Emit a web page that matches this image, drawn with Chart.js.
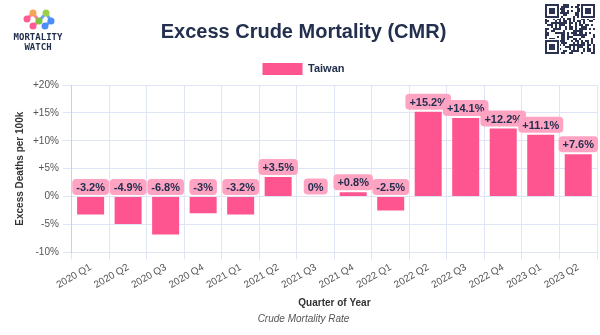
<!DOCTYPE html>
<html>
<head>
<meta charset="utf-8">
<script src="https://cdn.jsdelivr.net/npm/chart.js@4"></script>
<style>
  html, body { margin: 0; padding: 0; background: #fff; }
  #wrap { width: 600px; height: 335px; position: relative; }
</style>
</head>
<body>
<div id="wrap"><canvas id="cmr" width="600" height="335"></canvas></div>
<script>
// quarters and excess CMR (%) for Taiwan
const quarters = ['2020 Q1', '2020 Q2', '2020 Q3', '2020 Q4', '2021 Q1', '2021 Q2', '2021 Q3',
                  '2021 Q4', '2022 Q1', '2022 Q2', '2022 Q3', '2022 Q4', '2023 Q1', '2023 Q2'];
const excessTaiwan = [-3.2, -4.9, -6.8, -3, -3.2, 3.5, 0, 0.8, -2.5, 15.2, 14.1, 12.2, 11.1, 7.6];
const yTicks = [-10, -5, 0, 5, 10, 15, 20];

const PINK = '#fe5590';
const LABEL_BG = '#ffa3c3';
const INK = '#232f4e';
const GRID = '#dfe5f7';
const FONT = '"Liberation Sans", Arial, sans-serif';

function fmtPct(v) {
    if (v > 0) return '+' + v + '%';
    return v + '%';
}

function roundRect(ctx, x, y, w, h, r) {
    ctx.beginPath();
    ctx.moveTo(x + r, y);
    ctx.lineTo(x + w - r, y);
    ctx.quadraticCurveTo(x + w, y, x + w, y + r);
    ctx.lineTo(x + w, y + h - r);
    ctx.quadraticCurveTo(x + w, y + h, x + w - r, y + h);
    ctx.lineTo(x + r, y + h);
    ctx.quadraticCurveTo(x, y + h, x, y + h - r);
    ctx.lineTo(x, y + r);
    ctx.quadraticCurveTo(x, y, x + r, y);
    ctx.closePath();
}

// value badges sitting on top of each bar
const badgePlugin = {
    id: 'badges',
    afterDatasetsDraw(chart) {
        const ctx = chart.ctx;
        const meta = chart.getDatasetMeta(0);
        ctx.save();
        ctx.font = 'bold 11px ' + FONT;
        ctx.textAlign = 'center';
        ctx.textBaseline = 'middle';
        meta.data.forEach((bar, i) => {
            const txt = fmtPct(excessTaiwan[i]);
            const top = Math.min(bar.y, bar.base);
            const w = ctx.measureText(txt).width + 8;
            const h = 16;
            const bx = bar.x - w / 2;
            const by = top - h - 2;
            ctx.fillStyle = LABEL_BG;
            roundRect(ctx, bx, by, w, h, 4);
            ctx.fill();
            ctx.fillStyle = INK;
            ctx.fillText(txt, bar.x, by + h / 2 + 1);
        });
        ctx.restore();
    }
};

// logo in the top-left and a code block in the top-right
const brandPlugin = {
    id: 'brand',
    afterDraw(chart) {
        const ctx = chart.ctx;
        ctx.save();
        const nodes = [[27, 19, '#ff5c93'], [33, 13, '#f7a35c'], [39, 21, '#7cc63f'], [46, 13, '#9bd14a'], [51, 21, '#4d8df7'], [33, 26, '#ff5c93'], [45, 26, '#4d8df7']];
        ctx.lineWidth = 3;
        ctx.strokeStyle = '#ff7aa6';
        ctx.beginPath(); ctx.moveTo(27, 19); ctx.lineTo(33, 13); ctx.lineTo(39, 21); ctx.lineTo(33, 26); ctx.stroke();
        ctx.strokeStyle = '#6aa4f7';
        ctx.beginPath(); ctx.moveTo(39, 21); ctx.lineTo(46, 13); ctx.lineTo(51, 21); ctx.lineTo(45, 26); ctx.stroke();
        nodes.forEach(n => {
            ctx.fillStyle = n[2];
            ctx.beginPath(); ctx.arc(n[0], n[1], 3.5, 0, Math.PI * 2); ctx.fill();
        });
        ctx.fillStyle = INK;
        ctx.font = 'bold 9px "DejaVu Sans Mono", monospace';
        ctx.textAlign = 'center';
        ctx.textBaseline = 'middle';
        ctx.fillText('MORTALITY', 38, 38);
        ctx.fillText('WATCH', 38, 48);

        // code block
        const qx = 545, qy = 4, cell = 2, n = 25;
        const pattern = 'ab3f91c7e25d08b4f6a1937ce0d5b28f4a6c19e3d7b05f82a4c6e19d3b7f05a28c4e61b9d37f0a2c5e8b14d6f93a7c02e5b8d1f4a6c93e7b0d2f58a1c4e69b3d7f02a5c8e1b4d6';
        let k = 0;
        ctx.fillStyle = '#2c3350';
        for (let r = 0; r < n; r++) {
            for (let c = 0; c < n; c++) {
                const code = parseInt(pattern[k % pattern.length], 16);
                const bit = (code >> ((r + c) % 4)) & 1;
                k++;
                if (bit) ctx.fillRect(qx + c * cell, qy + r * cell, cell, cell);
            }
        }
        const finder = (fx, fy) => {
            ctx.fillStyle = '#fff';
            ctx.fillRect(fx - 1, fy - 1, 16, 16);
            ctx.fillStyle = '#2c3350';
            ctx.fillRect(fx, fy, 14, 14);
            ctx.fillStyle = '#fff';
            ctx.fillRect(fx + 2, fy + 2, 10, 10);
            ctx.fillStyle = '#2c3350';
            ctx.fillRect(fx + 4, fy + 4, 6, 6);
        };
        finder(qx, qy);
        finder(qx + n * cell - 14, qy);
        finder(qx, qy + n * cell - 14);
        ctx.restore();
    }
};

new Chart(document.getElementById('cmr'), {
    type: 'bar',
    data: {
        labels: quarters,
        datasets: [{
            label: 'Taiwan',
            data: excessTaiwan,
            backgroundColor: PINK,
            borderWidth: 0
        }]
    },
    options: {
        responsive: false,
        animation: false,
        devicePixelRatio: 1,
        layout: { padding: { left: 10, right: 3, top: 14, bottom: 8 } },
        plugins: {
            title: {
                display: true,
                text: 'Excess Crude Mortality (CMR)',
                color: INK,
                font: { size: 20, weight: 'bold', family: FONT },
                padding: { top: 6, bottom: 13 }
            },
            legend: {
                display: true,
                labels: {
                    color: INK,
                    boxWidth: 40,
                    boxHeight: 12,
                    padding: 6,
                    font: { size: 11, weight: 'bold', family: FONT }
                }
            },
            subtitle: {
                display: true,
                position: 'bottom',
                text: 'Crude Mortality Rate',
                color: '#555',
                font: { size: 10, style: 'italic', family: FONT },
                padding: { top: 4, bottom: 2 }
            },
            tooltip: { enabled: false }
        },
        scales: {
            x: {
                grid: { color: GRID, offset: true, drawTicks: true, tickLength: 7 },
                border: { color: GRID },
                ticks: {
                    color: '#555',
                    maxRotation: 30,
                    minRotation: 30,
                    padding: 2,
                    font: { size: 10, family: FONT }
                },
                title: {
                    display: true,
                    text: 'Quarter of Year',
                    color: '#333',
                    font: { size: 10, weight: 'bold', family: FONT },
                    padding: { top: 4, bottom: 0 }
                }
            },
            y: {
                min: yTicks[0],
                max: yTicks[yTicks.length - 1],
                afterBuildTicks(axis) {
                    axis.ticks = yTicks.map(v => ({ value: v }));
                },
                grid: { color: GRID, tickLength: 9 },
                border: { color: '#c9d1ea' },
                ticks: {
                    color: '#555',
                    padding: 4,
                    font: { size: 10, family: FONT },
                    callback: v => fmtPct(v)
                },
                title: {
                    display: true,
                    text: 'Excess Deaths per 100k',
                    color: '#333',
                    padding: { top: 4, bottom: 3 },
                    font: { size: 10, weight: 'bold', family: FONT }
                }
            }
        }
    },
    plugins: [badgePlugin, brandPlugin]
});
</script>
</body>
</html>
